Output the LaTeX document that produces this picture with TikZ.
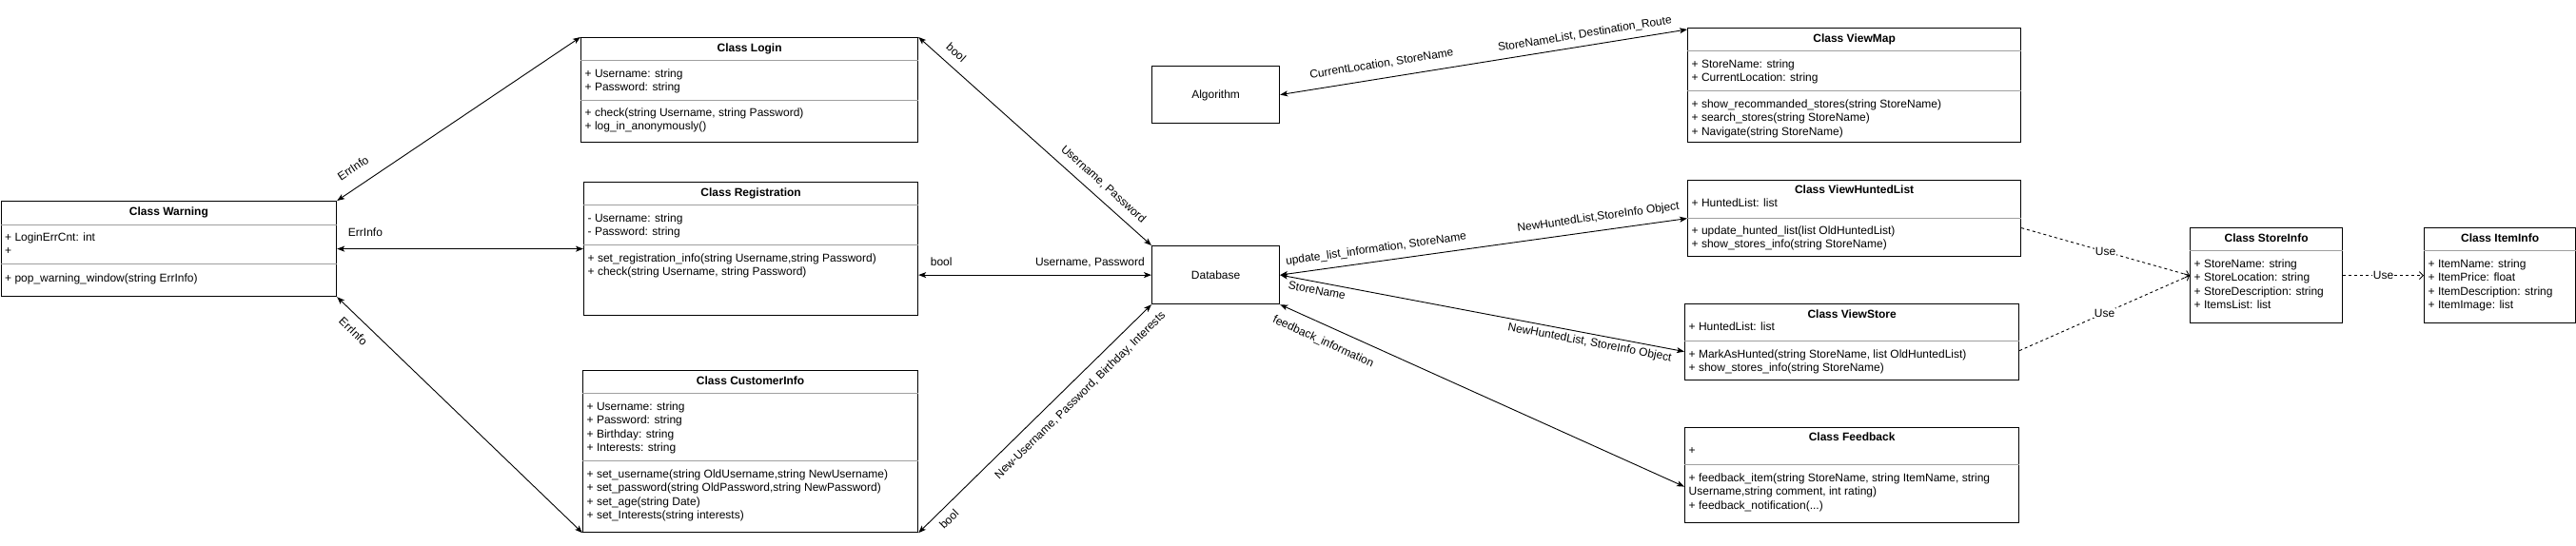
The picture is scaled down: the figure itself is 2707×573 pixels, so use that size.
\documentclass[tikz,border=0pt]{standalone}
\usepackage{fontspec}
\setmainfont{Liberation Sans}
\usetikzlibrary{arrows.meta}
\tikzset{
  fnt/.style={font=\fontsize{12}{14.4}\selectfont},
  umlbox/.style={draw, line width=1.2pt, anchor=north west, inner sep=0pt},
  divl/.style={draw=gray!75, line width=1pt},
  ttl/.style={font=\fontsize{12}{14.4}\selectfont\bfseries, inner sep=0pt, text height=8.6pt, text depth=0pt, anchor=center},
  rows/.style={fnt, align=left, anchor=north west, inner sep=0pt},
  plain/.style={fnt, inner sep=0pt, text height=8.6pt, text depth=0pt, anchor=center},
  assoc/.style={line width=0.9pt, {Stealth[length=8pt,width=6pt,inset=2pt]}-{Stealth[length=8pt,width=6pt,inset=2pt]}},
  lbl/.style={fnt, sloped, inner sep=0pt, text height=8.6pt, text depth=0pt},
  lblA/.style={lbl, anchor=south, outer ysep=#1},
  lblB/.style={lbl, anchor=north, outer ysep=#1},
  usedep/.style={line width=0.9pt, dash pattern=on 3pt off 3pt, -{Straight Barb[length=4pt,width=8pt]}},
  uselbl/.style={fnt, fill=white, inner sep=1pt, text height=8.6pt, text depth=0pt, anchor=center},
}
\begin{document}
\begin{tikzpicture}[x=1pt,y=-1pt]
\useasboundingbox (0,0) rectangle (2707,573);

% class boxes
\node[umlbox, minimum width=352.4pt, minimum height=100pt] (warning) at (0.6,211) {};
\node[umlbox, minimum width=354pt, minimum height=110pt] (login) at (610,39) {};
\node[umlbox, minimum width=351pt, minimum height=140pt] (registration) at (613,191) {};
\node[umlbox, minimum width=352pt, minimum height=170pt] (customer) at (612,389) {};
\node[umlbox, minimum width=134pt, minimum height=60pt] (algorithm) at (1210,69) {};
\node[umlbox, minimum width=134pt, minimum height=61pt] (database) at (1210,258) {};
\node[umlbox, minimum width=350pt, minimum height=120pt] (viewmap) at (1773,29) {};
\node[umlbox, minimum width=350pt, minimum height=80pt] (viewhunted) at (1773,189) {};
\node[umlbox, minimum width=351pt, minimum height=80pt] (viewstore) at (1770,319) {};
\node[umlbox, minimum width=351pt, minimum height=100pt] (feedback) at (1770,449) {};
\node[umlbox, minimum width=160pt, minimum height=100pt] (storeinfo) at (2301,239) {};
\node[umlbox, minimum width=159pt, minimum height=100pt] (iteminfo) at (2547,239) {};

% compartment dividers
\foreach \n/\y in {warning/236, warning/277, login/63, login/105, registration/215, registration/257,
  customer/413, customer/484, viewmap/53, viewmap/95, viewhunted/229, viewstore/358, feedback/488,
  storeinfo/263, iteminfo/263}
  \draw[divl] (\n.west |- 0,\y) -- (\n.east |- 0,\y);

% titles
\node[ttl] (warning-t) at (warning.north |- 0,222.5) {Class Warning};
\node[ttl] (login-t) at (login.north |- 0,50.5) {Class Login};
\node[ttl] (registration-t) at (registration.north |- 0,202.5) {Class Registration};
\node[ttl] (customer-t) at (customer.north |- 0,400.5) {Class CustomerInfo};
\node[ttl] (viewmap-t) at (viewmap.north |- 0,40.5) {Class ViewMap};
\node[ttl] (viewhunted-t) at (viewhunted.north |- 0,199) {Class ViewHuntedList};
\node[ttl] (viewstore-t) at (viewstore.north |- 0,330) {Class ViewStore};
\node[ttl] (feedback-t) at (feedback.north |- 0,459.5) {Class Feedback};
\node[ttl] (storeinfo-t) at (storeinfo.north |- 0,250.5) {Class StoreInfo};
\node[ttl] (iteminfo-t) at (iteminfo.north |- 0,250.5) {Class ItemInfo};
\node[plain] (algorithm-t) at (algorithm.center) {Algorithm};
\node[plain] (database-t) at (database.center) {Database};

% compartment contents
\node[rows] (warning-a) at (5,243.2) {\strut+ LoginErrCnt: int\\+};
\node[rows] (warning-o) at (5,286.2) {\strut+ pop\_warning\_window(string ErrInfo)};
\node[rows] (login-a) at (614.5,71.2) {\strut+ Username: string\\+ Password: string};
\node[rows] (login-o) at (614.5,112.2) {\strut+ check(string Username, string Password)\\+ log\_in\_anonymously()};
\node[rows] (registration-a) at (617.5,223.2) {\strut- Username: string\\- Password: string};
\node[rows] (registration-o) at (617.5,265.2) {\strut+ set\_registration\_info(string Username,string Password)\\+ check(string Username, string Password)};
\node[rows] (customer-a) at (616.5,421.2) {\strut+ Username: string\\+ Password: string\\+ Birthday: string\\+ Interests: string};
\node[rows] (customer-o) at (616.5,492.2) {\strut+ set\_username(string OldUsername,string NewUsername)\\+ set\_password(string OldPassword,string NewPassword)\\+ set\_age(string Date)\\+ set\_Interests(string interests)};
\node[rows] (viewmap-a) at (1777.5,61.2) {\strut+ StoreName: string\\+ CurrentLocation: string};
\node[rows] (viewmap-o) at (1777.5,103.2) {\strut+ show\_recommanded\_stores(string StoreName)\\+ search\_stores(string StoreName)\\+ Navigate(string StoreName)};
\node[rows] (viewhunted-a) at (1777.5,207.2) {\strut+ HuntedList: list};
\node[rows] (viewhunted-o) at (1777.5,236.2) {\strut+ update\_hunted\_list(list OldHuntedList)\\+ show\_stores\_info(string StoreName)};
\node[rows] (viewstore-a) at (1774.5,337.2) {\strut+ HuntedList: list};
\node[rows] (viewstore-o) at (1774.5,366.2) {\strut+ MarkAsHunted(string StoreName, list OldHuntedList)\\+ show\_stores\_info(string StoreName)};
\node[rows] (feedback-a) at (1774.5,467.2) {\strut+};
\node[rows] (feedback-o) at (1774.5,496.2) {\strut+ feedback\_item(string StoreName, string ItemName, string\\Username,string comment, int rating)\\+ feedback\_notification(...)};
\node[rows] (storeinfo-a) at (2305.5,271.2) {\strut+ StoreName: string\\+ StoreLocation: string\\+ StoreDescription: string\\+ ItemsList: list};
\node[rows] (iteminfo-a) at (2551.5,271.2) {\strut+ ItemName: string\\+ ItemPrice: float\\+ ItemDescription: string\\+ ItemImage: list};

% associations
\draw[assoc] (warning.north east) -- (login.north west)
  node[lblA=14.7pt, pos=0.107] (l1) {ErrInfo};
\draw[assoc] (warning.east) -- (registration.west)
  node[lblA=12.7pt, pos=0.115] (l2) {ErrInfo};
\draw[assoc] (warning.south east) -- (customer.south west)
  node[lblB=9.7pt, pos=0.104] (l3) {ErrInfo};
\draw[assoc] (login.north east) -- (database.north west)
  node[lblA=10.3pt, pos=0.123] (l4) {bool}
  node[lblA=10.7pt, pos=0.755] (l5) {Username, Password};
\draw[assoc] (registration.east |- database.west) -- (database.west)
  node[lblA=9.7pt, pos=0.098] (l6) {bool}
  node[lblA=9.7pt, pos=0.736] (l7) {Username, Password};
\draw[assoc] (customer.south east) -- (database.south west)
  node[lblB=7.7pt, pos=0.096] (l8) {bool}
  node[lblB=10.7pt, pos=0.649] (l9) {New-Username, Password, Birthday, Interests};
\draw[assoc] (algorithm.east) -- ([yshift=-2pt]viewmap.north west)
  node[lblA=11.7pt, pos=0.255] (l10) {CurrentLocation, StoreName}
  node[lblA=8.7pt, pos=0.753] (l11) {StoreNameList, Destination\_Route};
\draw[assoc] (database.east) -- (viewhunted.west)
  node[lblA=9.7pt, pos=0.24] (l12) {update\_list\_information, StoreName}
  node[lblA=10.7pt, pos=0.786] (l13) {NewHuntedList,StoreInfo Object};
\draw[assoc] (database.east) -- ([yshift=-10pt]viewstore.west)
  node[lblB=4.2pt, pos=0.095] (l14) {StoreName}
  node[lblB=4.2pt, pos=0.77] (l15) {NewHuntedList, StoreInfo Object};
\draw[assoc] (database.south east) -- ([yshift=-12pt]feedback.west)
  node[lblB=11.7pt, pos=0.123] (l16) {feedback\_information};

% use dependencies
\draw[usedep] ([yshift=-10pt]viewhunted.east) -- (storeinfo.west) node[uselbl, pos=0.5] (u1) {Use};
\draw[usedep] ([yshift=-9pt]viewstore.east) -- (storeinfo.west) node[uselbl, pos=0.5] (u2) {Use};
\draw[usedep] (storeinfo.east) -- (iteminfo.west) node[uselbl, pos=0.5] (u3) {Use};
\end{tikzpicture}
\end{document}
